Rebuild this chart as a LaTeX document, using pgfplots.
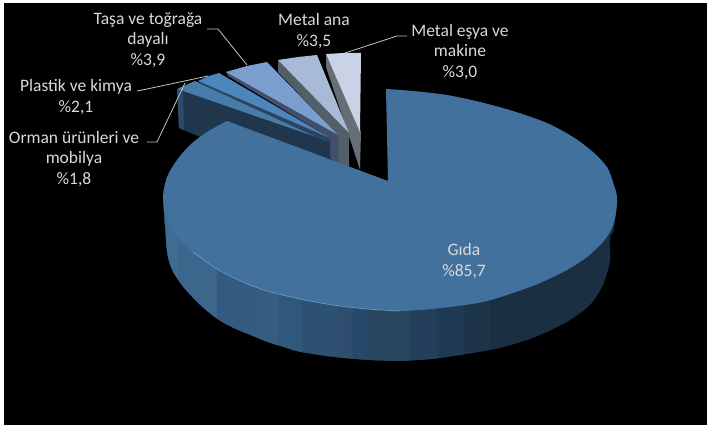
\documentclass[border=0pt]{standalone}
\usepackage{fontspec}
\setmainfont{Carlito}
\usepackage{pgfplots}
\pgfplotsset{compat=1.18}
\definecolor{lbl}{HTML}{D9D9D9}
\definecolor{ldr}{HTML}{C4C4C4}
\definecolor{mainface}{HTML}{43719D}
\newcommand{\dc}[1]{\definecolor{c#1}{HTML}{#1}}
\dc{666E78}\dc{C9D3E5}\dc{525E68}\dc{A7BAD6}\dc{434E6D}\dc{7A9FCF}\dc{1F364D}\dc{2B4B69}\dc{477CA8}\dc{2B4560}\dc{4D86BC}
\dc{3F6C93}\dc{3D668C}\dc{335A80}\dc{365D82}\dc{2E587C}\dc{2C5172}\dc{2F4E6E}\dc{29496A}\dc{2A4760}\dc{233F5C}\dc{1F3B54}\dc{1E3449}\dc{1B2F42}\dc{6A97BE}
\newcommand{\strip}[2]{\addplot[fill=c#1,draw=c#1,line width=0.3pt] coordinates {#2} --cycle;}
\newcommand{\poly}[2]{\addplot[fill=c#1,draw=none] coordinates {#2} --cycle;}
\tikzset{lb/.style={text=lbl,align=center,font=\fontsize{17.5}{20.5}\selectfont,inner sep=0pt}}
\begin{document}
\begin{tikzpicture}
\begin{axis}[
  width=707pt,height=427pt,scale only axis,
  xmin=0,xmax=707,ymin=0,ymax=427,y dir=reverse,
  hide axis,clip=true
]
% page and black ground
\addplot[fill=white,draw=none] coordinates {(0,0)(707,0)(707,427)(0,427)} --cycle;
\addplot[fill=black,draw=none] coordinates {(4,3)(707,3)(707,425)(4,425)} --cycle;

% Metal esya ve makine
\poly{666E78}{(326,54)(326,67)(349,136)(360,170)(361,132)}
\poly{C9D3E5}{(326,54)(344,53)(361,53)(360,132)}
% Metal ana
\poly{525E68}{(278,60)(278,72)(338,135)(338,163)(349,167)(349,133)}
\poly{A7BAD6}{(278,60)(298,57)(317,55)(349,133)}
% Tasa ve topraga dayali
\poly{434E6D}{(226,72)(228,76)(330,138)(330,159)(338,163)(338,135)}
\poly{7A9FCF}{(226,72)(247,66)(267,62)(338,135)}
% Orman urunleri ve mobilya
\poly{1F364D}{(177,89)(179,128)(200,137)(330,159)(330,140)(325,139)}
\poly{2B4B69}{(177,89)(179,128)(184,130)(183,92)}
\poly{477CA8}{(177,89)(186,85)(195,81)(325,140)}
% Plastik ve kimya
\poly{2B4560}{(198,81)(201,84)(325,141)(330,142)(330,138)}
\poly{4D86BC}{(198,81)(209,76)(219,73)(330,138)}

% side of the main slice, strip by strip (run a little low, trimmed below)
\strip{3F6C93}{(163,197)(173,232)(178,237)(178,284)(162,284)(162,228)(165,225)}
\strip{3D668C}{(178,235)(193,250)(217,267)(217,324)(178,284)}
\strip{335A80}{(217,267)(243,280)(257,285)(257,342)(217,324)}
\strip{365D82}{(257,285)(278,292)(278,349)(257,342)}
\strip{2E587C}{(278,292)(302,297)(302,356)(278,349)}
\strip{2C5172}{(302,297)(338,304)(338,362)(302,356)}
\strip{2F4E6E}{(338,304)(353,306)(353,363)(338,362)}
\strip{29496A}{(353,306)(368,307)(368,364)(353,363)}
\strip{2A4760}{(368,307)(410,308)(410,365)(368,364)}
\strip{233F5C}{(410,308)(437,306)(437,363)(410,365)}
\strip{1F3B54}{(437,306)(465,303)(465,358)(437,363)}
\strip{1E3449}{(465,303)(490,298)(490,354)(465,358)}
\strip{1B2F42}{(490,298)(513,291)(540,281)(567,268)(587,255)(604,239)(612,226)(616,213)(613,232)(620,234)(618,262)(610,290)(596,310)(570,328)(535,344)(490,354)}
% black below the lower rim
\addplot[smooth,tension=0.5,fill=black,draw=none] coordinates {
 (165,225)(167,253)(172,270)(183,287)(200,305)(217,319)(233,328)(250,335)(267,342)(283,347)(300,352)
 (333,357)(367,360)(400,361)(433,359)(467,354)(500,348)(533,338)(567,322)(590,305)(603,285)(610,262)(613,232)
 (650,228)(650,400)(130,400)(130,225)};

% top face of the main slice (Gida): two smooth outer arcs and an inner polygon over their chords
\addplot[smooth,tension=0.5,fill=mainface,draw=none] coordinates {
 (386,89)(413,91)(447,95)(480,102)(513,111)(547,123)(573,137)(593,152)(607,167)
 (613,182)(617,197)(616,213)(612,228)(603,242)(587,257)(567,270)(540,283)(513,293)(483,302)
 (450,307)(420,310)(400,311)};
\addplot[smooth,tension=0.5,fill=mainface,draw=none] coordinates {
 (400,311)(367,309)(333,305)(300,299)(267,291)(243,282)(217,269)(193,252)
 (173,232)(167,215)(163,197)(167,177)(177,160)(190,145)(207,132)(227,121)};
\addplot[fill=mainface,draw=none] coordinates {(388,181)(386,89)(500,130)(520,250)(400,311)(300,290)(190,190)(227,121)} --cycle;
% rim highlight
\addplot[smooth,tension=0.5,draw=c6A97BE,line width=0.7pt] coordinates {(193,252)(217,269)(243,282)(267,291)(300,299)(333,305)(367,309)(400,311)};

% leader lines
\addplot[draw=ldr,line width=0.8pt] coordinates {(207,29)(218,29)(247,65)};
\addplot[draw=ldr,line width=0.8pt] coordinates {(137,91)(147,89)(208,76)};
\addplot[draw=ldr,line width=0.8pt] coordinates {(147,142)(157,142)(185,83)};
\addplot[draw=ldr,line width=0.8pt] coordinates {(407,36)(397,36)(345,53)};

% labels
\node[lb] at (axis cs:148,40) {Taşa ve toğrağa\\dayalı\\\%3,9};
\node[lb] at (axis cs:314,31) {Metal ana\\\%3,5};
\node[lb] at (axis cs:76,97) {Plastik ve kimya\\\%2,1};
\node[lb] at (axis cs:74,159) {Orman ürünleri ve\\mobilya\\\%1,8};
\node[lb] at (axis cs:460,52) {Metal eşya ve\\makine\\\%3,0};
\node[lb] at (axis cs:464,261) {Gıda\\\%85,7};
\end{axis}
\end{tikzpicture}
\end{document}
